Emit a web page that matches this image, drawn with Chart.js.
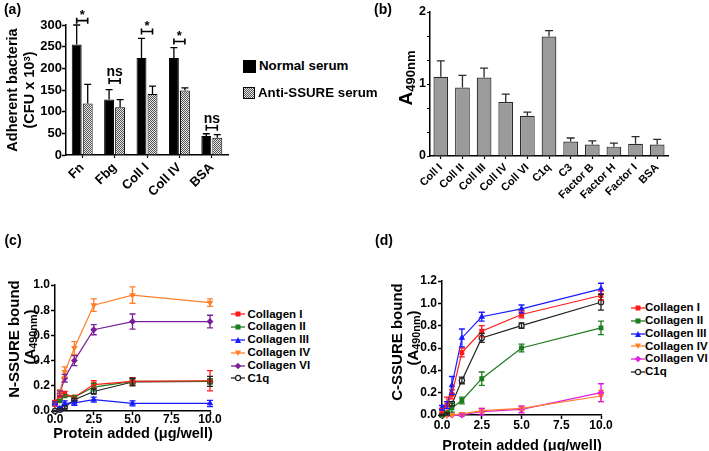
<!DOCTYPE html>
<html><head><meta charset="utf-8">
<script src="https://cdn.jsdelivr.net/npm/chart.js@4"></script>
<style>
body{margin:0;background:#fff;width:709px;height:451px;position:relative;overflow:hidden;font-family:"Liberation Sans",Arial,Helvetica,sans-serif;font-weight:bold;color:#000}
canvas{position:absolute}
.t{position:absolute;white-space:nowrap;transform:translate(-50%,-50%);line-height:1}
.r{transform:translate(-50%,-50%) rotate(-90deg)}
sub{font-size:0.72em;vertical-align:baseline;position:relative;top:0.22em;line-height:0}
sup{font-size:0.65em;vertical-align:baseline;position:relative;top:-0.45em;line-height:0}
.lg{position:absolute;display:flex;align-items:center;white-space:nowrap;line-height:1}
</style></head>
<body>
<canvas id="ca" width="240" height="220" style="left:0;top:0"></canvas>
<canvas id="cb" width="349" height="220" style="left:360px;top:0"></canvas>
<canvas id="cc" width="230" height="226" style="left:0;top:225px"></canvas>
<canvas id="cd" width="260" height="226" style="left:360px;top:225px"></canvas>

<div class="t" style="left:12.5px;top:8.5px;font-size:14px">(a)</div>
<div class="t" style="left:383px;top:8.5px;font-size:14px">(b)</div>
<div class="t" style="left:13px;top:240px;font-size:14px">(c)</div>
<div class="t" style="left:384px;top:240px;font-size:14px">(d)</div>

<div class="t r" style="left:11.7px;top:90px;font-size:14.5px">Adherent bacteria</div>
<div class="t r" style="left:28.5px;top:90px;font-size:14.5px">(CFU x 10<sup>3</sup>)</div>

<div class="t r" style="left:405px;top:78px;font-size:19px">A<sub style="font-size:13px">490nm</sub></div>

<div class="t r" style="left:13px;top:339px;font-size:15px">N-SSURE bound</div>
<div class="t r" style="left:29px;top:337px;font-size:15px">(A<sub>490nm</sub>)</div>
<div class="t r" style="left:396px;top:342px;font-size:15px">C-SSURE bound</div>
<div class="t r" style="left:412px;top:338px;font-size:15px">(A<sub>490nm</sub>)</div>

<div class="t" style="left:133px;top:433px;font-size:14.5px">Protein added (μg/well)</div>
<div class="t" style="left:522px;top:445px;font-size:14.5px">Protein added (μg/well)</div>

<div id="legendA"></div>
<div id="legendC"></div>
<div id="legendD"></div>

<script>
// ---------- Panel (a) ----------
const aCategories = ['Fn','Fbg','Coll I','Coll IV','BSA'];
const aSeriesNames = ['Normal serum','Anti-SSURE serum'];
const aNormal = [255, 128, 224, 224, 44];
const aNormalErr = [45, 23, 45, 24, 5];
const aAnti = [119, 110, 141, 149, 40];
const aAntiErr = [44, 18, 18, 6, 7];
const aSigLabels = ['*','ns','*','*','ns'];
const aSigLevels = [310, 171, 285, 262, 63];

// ---------- Panel (b) ----------
const bCategories = ['Coll I','Coll II','Coll III','Coll IV','Coll VI','C1q','C3','Factor B','Factor H','Factor I','BSA'];
const bValues = [1.10, 0.95, 1.09, 0.75, 0.56, 1.66, 0.20, 0.16, 0.13, 0.17, 0.16];
const bErr = [0.22, 0.17, 0.13, 0.11, 0.05, 0.08, 0.05, 0.05, 0.05, 0.10, 0.07];

// ---------- Panels (c) and (d) ----------
const doses = [0, 0.3125, 0.625, 1.25, 2.5, 5, 10];
const lineSeriesNames = ['Collagen I','Collagen II','Collagen III','Collagen IV','Collagen VI','C1q'];

const cColI    = [0.07, 0.12, 0.135, 0.11, 0.21, 0.235, 0.24];
const cColIErr = [0.01, 0.01, 0.02, 0.01, 0.03, 0.03, 0.08];
const cColII    = [0.06, 0.08, 0.12, 0.11, 0.19, 0.235, 0.235];
const cColIIErr = [0.01, 0.01, 0.01, 0.01, 0.03, 0.02, 0.02];
const cColIII    = [0.06, 0.02, 0.06, 0.065, 0.09, 0.06, 0.06];
const cColIIIErr = [0.01, 0.01, 0.02, 0.02, 0.02, 0.02, 0.025];
const cColIV    = [0.05, 0.15, 0.31, 0.50, 0.84, 0.92, 0.86];
const cColIVErr = [0.01, 0.02, 0.04, 0.05, 0.05, 0.065, 0.03];
const cColVI    = [0.05, 0.14, 0.26, 0.40, 0.645, 0.71, 0.71];
const cColVIErr = [0.01, 0.02, 0.03, 0.04, 0.04, 0.06, 0.05];
const cC1q    = [0.0, 0.01, 0.03, 0.09, 0.155, 0.23, 0.235];
const cC1qErr = [0.005, 0.01, 0.01, 0.01, 0.02, 0.03, 0.04];

const dColI    = [0.04, 0.09, 0.185, 0.56, 0.75, 0.90, 1.07];
const dColIErr = [0.02, 0.07, 0.04, 0.04, 0.05, 0.03, 0.04];
const dColII    = [0.0, 0.02, 0.065, 0.13, 0.325, 0.60, 0.78];
const dColIIErr = [0.005, 0.01, 0.04, 0.03, 0.06, 0.035, 0.06];
const dColIII    = [0.065, 0.09, 0.265, 0.69, 0.88, 0.95, 1.13];
const dColIIIErr = [0.02, 0.03, 0.08, 0.08, 0.04, 0.035, 0.05];
const dColIV    = [0.0, 0.0, 0.0, 0.01, 0.04, 0.06, 0.17];
const dColIVErr = [0, 0, 0, 0.01, 0.02, 0.02, 0.05];
const dColVI    = [0.0, 0.0, 0.0, 0.0, 0.03, 0.05, 0.20];
const dColVIErr = [0, 0, 0, 0.01, 0.03, 0.03, 0.08];
const dC1q    = [0.0, 0.01, 0.10, 0.31, 0.69, 0.80, 1.01];
const dC1qErr = [0.005, 0.01, 0.02, 0.03, 0.04, 0.025, 0.07];

// ---------- styling ----------
const FONT = '"Liberation Sans", Arial, Helvetica, sans-serif';
Chart.defaults.font.family = FONT;
Chart.defaults.font.weight = 'bold';
Chart.defaults.color = '#000';
Chart.defaults.animation = false;

const errorBars = {
  id: 'errorBars',
  afterDatasetsDraw(chart) {
    const ctx = chart.ctx, ys = chart.scales.y;
    chart.data.datasets.forEach((ds, i) => {
      if (!ds.errors) return;
      const meta = chart.getDatasetMeta(i);
      ctx.save();
      ctx.strokeStyle = ds.errorColor || ds.borderColor;
      ctx.lineWidth = ds.errorWidth || 1.3;
      meta.data.forEach((el, j) => {
        const raw = ds.data[j];
        const v = (raw && typeof raw === 'object') ? raw.y : raw;
        const e = ds.errors[j];
        if (!e) return;
        const x = el.x, cap = ds.capWidth || 3;
        const yT = ys.getPixelForValue(v + e);
        const yB = ds.upperOnly ? ys.getPixelForValue(v) : ys.getPixelForValue(v - e);
        ctx.beginPath();
        ctx.moveTo(x, yB); ctx.lineTo(x, yT);
        ctx.moveTo(x - cap, yT); ctx.lineTo(x + cap, yT);
        if (!ds.upperOnly) { ctx.moveTo(x - cap, yB); ctx.lineTo(x + cap, yB); }
        ctx.stroke();
      });
      ctx.restore();
    });
  }
};

const sigBrackets = {
  id: 'sigBrackets',
  afterDatasetsDraw(chart) {
    const ctx = chart.ctx, ys = chart.scales.y;
    const m0 = chart.getDatasetMeta(0), m1 = chart.getDatasetMeta(1);
    ctx.save();
    ctx.strokeStyle = '#000'; ctx.fillStyle = '#000'; ctx.lineWidth = 1.6;
    aSigLabels.forEach((lab, j) => {
      const x1 = m0.data[j].x, x2 = m1.data[j].x;
      const y = ys.getPixelForValue(aSigLevels[j]);
      ctx.beginPath();
      ctx.moveTo(x1, y); ctx.lineTo(x2, y);
      ctx.moveTo(x1, y - 3); ctx.lineTo(x1, y + 3);
      ctx.moveTo(x2, y - 3); ctx.lineTo(x2, y + 3);
      ctx.stroke();
      ctx.textAlign = 'center'; ctx.textBaseline = 'bottom';
      ctx.font = (lab === '*' ? 'bold 13px ' : 'bold 14px ') + FONT;
      ctx.fillText(lab, (x1 + x2) / 2, lab === '*' ? y + 1 : y - 2);
    });
    ctx.restore();
  }
};

function checkerPattern(ctx) {
  const c = document.createElement('canvas');
  c.width = 2; c.height = 2;
  const g = c.getContext('2d');
  g.fillStyle = '#e6e6e6'; g.fillRect(0, 0, 2, 2);
  g.fillStyle = '#555'; g.fillRect(0, 0, 1, 1); g.fillRect(1, 1, 1, 1);
  return ctx.createPattern(c, 'repeat');
}

const axisBorder = { color: '#000', width: 1.5 };

// ---------- chart (a) ----------
const ctxA = document.getElementById('ca').getContext('2d');
new Chart(ctxA, {
  type: 'bar',
  data: {
    labels: aCategories,
    datasets: [
      { label: aSeriesNames[0], data: aNormal, errors: aNormalErr, upperOnly: true, capWidth: 3.5,
        backgroundColor: '#000', borderColor: '#000', borderWidth: 1, errorColor: '#000' },
      { label: aSeriesNames[1], data: aAnti, errors: aAntiErr, upperOnly: true, capWidth: 3.5,
        backgroundColor: checkerPattern(ctxA), borderColor: '#000', borderWidth: 1, errorColor: '#000' }
    ]
  },
  options: {
    responsive: false, devicePixelRatio: 1,
    layout: { padding: { left: 0, right: 12, top: 25, bottom: 0 } },
    categoryPercentage: 0.68, barPercentage: 0.9,
    plugins: { legend: { display: false }, tooltip: { enabled: false } },
    scales: {
      x: {
        grid: { drawOnChartArea: false, offset: false, tickLength: 3, color: '#000', tickWidth: 1.2 },
        border: axisBorder,
        ticks: { minRotation: 45, maxRotation: 45, autoSkip: false, padding: 2, font: { size: 13, weight: 'bold' } },
        afterFit: s => { s.height = 65; }
      },
      y: {
        min: 0, max: 300,
        grid: { drawOnChartArea: false, tickLength: 4, color: '#000', tickWidth: 1.5 },
        border: axisBorder,
        ticks: { stepSize: 50, padding: 0, font: { size: 13, weight: 'bold' } },
        afterFit: s => { s.width = 66; }
      }
    }
  },
  plugins: [errorBars, sigBrackets]
});

// ---------- chart (b) ----------
new Chart(document.getElementById('cb'), {
  type: 'bar',
  data: {
    labels: bCategories,
    datasets: [{ label: 'A490nm', data: bValues, errors: bErr, upperOnly: true, capWidth: 4,
      backgroundColor: '#9b9b9b', borderColor: '#2a2a2a', borderWidth: 1.2, errorColor: '#2a2a2a' }]
  },
  options: {
    responsive: false, devicePixelRatio: 1,
    layout: { padding: { left: 0, right: 41, top: 12, bottom: 0 } },
    categoryPercentage: 1, barPercentage: 0.68,
    plugins: { legend: { display: false }, tooltip: { enabled: false } },
    scales: {
      x: {
        grid: { drawOnChartArea: false, offset: false, tickLength: 3, color: '#000', tickWidth: 1.2 },
        border: axisBorder,
        ticks: { minRotation: 45, maxRotation: 45, autoSkip: false, padding: 2, font: { size: 11, weight: 'bold' } },
        afterFit: s => { s.height = 64; }
      },
      y: {
        min: 0, max: 2,
        grid: { drawOnChartArea: false, tickLength: 3, color: '#000', tickWidth: 1.2 },
        border: axisBorder,
        ticks: { stepSize: 1 / 3, padding: 1, font: { size: 12.5, weight: 'bold' },
          callback: v => Math.abs(v - Math.round(v)) < 1e-6 ? String(Math.round(v)) : '' },
        afterFit: s => { s.width = 70; }
      }
    }
  },
  plugins: [errorBars]
});

// ---------- line charts ----------
function pts(ys) { return doses.map((x, i) => ({ x: x, y: ys[i] })); }
function lineDs(name, ys, errs, color, style, rot, fill) {
  return {
    label: name, data: pts(ys), errors: errs, borderColor: color, backgroundColor: color,
    pointBackgroundColor: fill || color, pointBorderColor: color, pointBorderWidth: 1.2,
    pointStyle: style, pointRotation: rot || 0, pointRadius: 2.6, borderWidth: 1.2,
    tension: 0, clip: false, capWidth: 3, errorWidth: 1.3
  };
}
function lineOptions(yMax, pad, yW, xH, xPad) {
  return {
    responsive: false, devicePixelRatio: 1,
    layout: { padding: pad },
    plugins: { legend: { display: false }, tooltip: { enabled: false } },
    scales: {
      x: {
        type: 'linear', min: 0, max: 10,
        grid: { drawOnChartArea: false, tickLength: 4, color: '#000', tickWidth: 1.5 },
        border: axisBorder,
        ticks: { stepSize: 2.5, padding: xPad, font: { size: 12, weight: 'bold' }, callback: v => v.toFixed(1) },
        afterFit: s => { s.height = xH; }
      },
      y: {
        min: 0, max: yMax,
        grid: { drawOnChartArea: false, tickLength: 4, color: '#000', tickWidth: 1.5 },
        border: axisBorder,
        ticks: { stepSize: 0.2, padding: 1, font: { size: 12, weight: 'bold' }, callback: v => v.toFixed(1) },
        afterFit: s => { s.width = yW; }
      }
    }
  };
}

const cColors = ['#ff1a1a', '#1e7b1e', '#1a1aff', '#ff7f2a', '#7a1f9a', '#222222'];
const dColors = ['#ff1a1a', '#1e7b1e', '#1a1aff', '#ff7f2a', '#e01ee0', '#222222'];
const styles = [['rect', 0], ['rect', 0], ['triangle', 0], ['triangle', 180], ['rectRot', 0], ['circle', 0]];

new Chart(document.getElementById('cc'), {
  type: 'line',
  data: { datasets: [
    lineDs(lineSeriesNames[0], cColI, cColIErr, cColors[0], 'rect'),
    lineDs(lineSeriesNames[1], cColII, cColIIErr, cColors[1], 'rect'),
    lineDs(lineSeriesNames[2], cColIII, cColIIIErr, cColors[2], 'triangle'),
    lineDs(lineSeriesNames[3], cColIV, cColIVErr, cColors[3], 'triangle', 180),
    lineDs(lineSeriesNames[4], cColVI, cColVIErr, cColors[4], 'rectRot'),
    lineDs(lineSeriesNames[5], cC1q, cC1qErr, cColors[5], 'circle', 0, '#ffffff')
  ] },
  options: lineOptions(1.0, { left: 0, right: 20, top: 60, bottom: 0 }, 55, 40, -3),
  plugins: [errorBars]
});

new Chart(document.getElementById('cd'), {
  type: 'line',
  data: { datasets: [
    lineDs(lineSeriesNames[0], dColI, dColIErr, dColors[0], 'rect'),
    lineDs(lineSeriesNames[1], dColII, dColIIErr, dColors[1], 'rect'),
    lineDs(lineSeriesNames[2], dColIII, dColIIIErr, dColors[2], 'triangle'),
    lineDs(lineSeriesNames[3], dColIV, dColIVErr, dColors[3], 'triangle', 180),
    lineDs(lineSeriesNames[4], dColVI, dColVIErr, dColors[4], 'rectRot'),
    lineDs(lineSeriesNames[5], dC1q, dC1qErr, dColors[5], 'circle', 0, '#ffffff')
  ] },
  options: lineOptions(1.2, { left: 0, right: 19, top: 56, bottom: 0 }, 82, 36, -1),
  plugins: [errorBars]
});

// ---------- legends ----------
function icon(color, style, rot) {
  let s;
  if (style === 'rect') s = `<rect x="4.5" y="1.5" width="5" height="5" fill="${color}"/>`;
  else if (style === 'triangle' && rot === 180) s = `<polygon points="4,1.5 10,1.5 7,7" fill="${color}"/>`;
  else if (style === 'triangle') s = `<polygon points="7,1 10,7 4,7" fill="${color}"/>`;
  else if (style === 'rectRot') s = `<polygon points="7,0.8 10.2,4 7,7.2 3.8,4" fill="${color}"/>`;
  else s = `<circle cx="7" cy="4" r="2.6" fill="#fff" stroke="${color}" stroke-width="1.3"/>`;
  return `<svg width="14" height="8" style="display:block"><line x1="0" y1="4" x2="14" y2="4" stroke="${color}" stroke-width="1.3"/>${s}</svg>`;
}
function buildLineLegend(id, colors, left, textLeft, top0, step) {
  let h = '';
  lineSeriesNames.forEach((n, i) => {
    const y = top0 + i * step;
    h += `<div class="lg" style="left:${left}px;top:${y - 6}px;height:12px;font-size:11.5px">${icon(colors[i], styles[i][0], styles[i][1])}<span style="margin-left:${textLeft - left - 14}px">${n}</span></div>`;
  });
  document.getElementById(id).innerHTML = h;
}
buildLineLegend('legendC', cColors, 231, 247.5, 314.3, 12.8);
buildLineLegend('legendD', dColors, 631, 645, 308, 12.8);

document.getElementById('legendA').innerHTML =
  `<div class="lg" style="left:243px;top:60px;height:12px;font-size:13.3px"><div style="width:11px;height:11px;background:#000;border:0.5px solid #000"></div><span style="margin-left:3px">${aSeriesNames[0]}</span></div>` +
  `<div class="lg" style="left:243px;top:87px;height:12px;font-size:13.3px"><div style="width:10px;height:10px;border:1px solid #000;background:repeating-conic-gradient(#555 0 25%, #e6e6e6 0 50%) 0 0/2px 2px"></div><span style="margin-left:3px">${aSeriesNames[1]}</span></div>`;
</script>
</body></html>
